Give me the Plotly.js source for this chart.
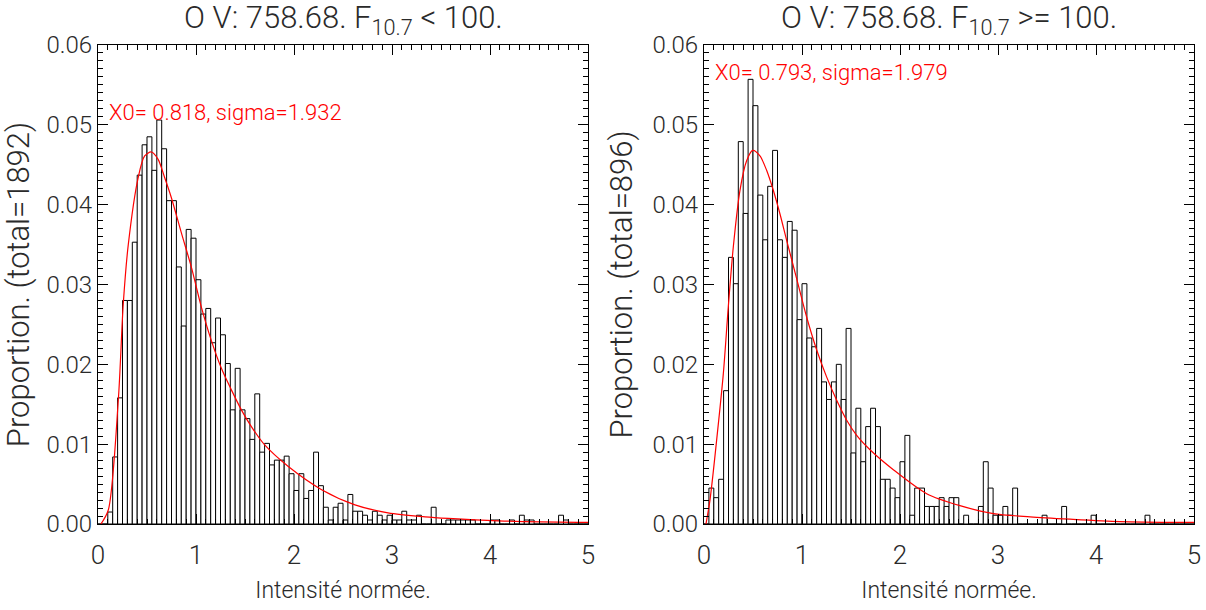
<!DOCTYPE html>
<html>
<head>
<meta charset="utf-8">
<script src="https://cdn.plot.ly/plotly-3.0.1.min.js"></script>
<style>
  html, body { margin: 0; padding: 0; background: #fff; }
  #chart { width: 1206px; height: 610px; }
</style>
</head>
<body>
<div id="chart"></div>
<script>
// Histogram proportions, bins of width 0.05 from 0 to 5
const leftProp = [
  0, 0, 0.0015, 0.0084, 0.0158, 0.0280, 0.0280, 0.0353, 0.0437, 0.0475,
  0.0485, 0.0443, 0.0506, 0.0470, 0.0405, 0.0405, 0.0322, 0.0248, 0.0369, 0.0358,
  0.0306, 0.0263, 0.0270, 0.0227, 0.0258, 0.0237, 0.0201, 0.0143, 0.0195, 0.0143,
  0.0132, 0.0106, 0.0163, 0.0090, 0.0101, 0.0074, 0.0080, 0.0080, 0.0085, 0.0063,
  0.0042, 0.0063, 0.0032, 0.0042, 0.0090, 0.0048, 0.0021, 0.0005, 0.0021, 0.0026,
  0.0005, 0.0037, 0.0016, 0.0016, 0.0011, 0.0005, 0.0016, 0.0011, 0.0005, 0.0011,
  0.0005, 0.0005, 0.0016, 0.0005, 0.0005, 0.0011, 0, 0, 0.0021, 0,
  0, 0.0005, 0.0005, 0.0005, 0.0005, 0.0005, 0.0005, 0, 0, 0,
  0.0005, 0.0005, 0, 0, 0.0005, 0, 0.0011, 0.0005, 0.0005, 0,
  0, 0, 0, 0, 0.0011, 0.0005, 0, 0, 0, 0
];
const rightProp = [
  0, 0.0045, 0.0033, 0.0056, 0.0167, 0.0334, 0.0301, 0.0479, 0.0389, 0.0557,
  0.0524, 0.0412, 0.0356, 0.0423, 0.0468, 0.0356, 0.0334, 0.0379, 0.0368, 0.0256,
  0.0301, 0.0233, 0.0222, 0.0245, 0.0178, 0.0156, 0.0178, 0.0200, 0.0156, 0.0245,
  0.0089, 0.0145, 0.0078, 0.0122, 0.0145, 0.0122, 0.0056, 0.0056, 0.0045, 0.0033,
  0.0078, 0.0111, 0.0011, 0.0045, 0.0045, 0.0022, 0.0022, 0.0022, 0.0033, 0.0022,
  0.0033, 0.0033, 0, 0.0011, 0, 0, 0.0022, 0.0078, 0.0045, 0.0011,
  0.0011, 0.0022, 0.0011, 0.0045, 0, 0, 0, 0, 0, 0.0011,
  0, 0, 0, 0.0022, 0, 0, 0, 0, 0, 0.0011,
  0, 0, 0, 0, 0, 0, 0, 0, 0, 0,
  0.0011, 0, 0, 0, 0, 0, 0, 0, 0, 0
];

// Fitted curves
const leftFitX = [0.03, 0.105, 0.207, 0.258, 0.309, 0.41, 0.476, 0.544, 0.612, 0.68, 0.748, 0.85, 0.952, 1.054, 1.156, 1.259, 1.361, 1.463, 1.565, 1.701, 1.942, 2.282, 2.622, 2.96, 3.337, 3.575, 4.085, 4.9, 5.0];
const leftFitY = [0, 0.00175, 0.0155, 0.0276, 0.035, 0.0434, 0.0461, 0.0466, 0.0457, 0.0434, 0.0409, 0.0365, 0.0322, 0.0272, 0.023, 0.0195, 0.0168, 0.0143, 0.0122, 0.0099, 0.0072, 0.0043, 0.0024, 0.0014, 0.0009, 0.0007, 0.0004, 0.0002, 0.0002];
const rightFitX = [0.02, 0.061, 0.129, 0.197, 0.248, 0.299, 0.367, 0.435, 0.497, 0.571, 0.639, 0.707, 0.776, 0.844, 0.946, 1.048, 1.150, 1.252, 1.354, 1.456, 1.558, 1.694, 1.932, 2.272, 2.612, 2.952, 3.327, 3.735, 4.245, 4.891, 5.0];
const rightFitY = [0, 0.003, 0.0105, 0.0188, 0.0272, 0.0347, 0.0418, 0.0455, 0.0468, 0.0461, 0.0443, 0.0418, 0.0388, 0.0355, 0.0307, 0.0259, 0.0218, 0.0184, 0.0155, 0.013, 0.0111, 0.0093, 0.0068, 0.0038, 0.0023, 0.0013, 0.0009, 0.0006, 0.0003, 0.0002, 0.0002];

const titles = ["O V: 758.68. F<sub>10.7</sub> < 100.", "O V: 758.68. F<sub>10.7</sub> >= 100."];
const yTitles = ["Proportion. (total=1892)", "Proportion. (total=896)"];
const xTitle = "Intensité normée.";
const fitLabels = ["X0= 0.818, sigma=1.932", "X0= 0.793, sigma=1.979"];
const xTickVals = [0, 1, 2, 3, 4, 5];
const yTickVals = [0, 0.01, 0.02, 0.03, 0.04, 0.05, 0.06];

const FONT = "Roboto, Liberation Sans, sans-serif";
const TXT = "#2a2a2a";
const W = 300;

function histTrace(y, xa, ya) {
  return {
    type: 'bar', x0: 0.025, dx: 0.05, y: y, width: 0.05,
    marker: { color: 'white', line: { color: 'black', width: 1 } },
    xaxis: xa, yaxis: ya, hoverinfo: 'x+y', showlegend: false
  };
}
function fitTrace(x, y, xa, ya) {
  return {
    type: 'scatter', mode: 'lines', x: x, y: y,
    line: { color: 'red', width: 1.2, shape: 'spline', smoothing: 0.8 },
    xaxis: xa, yaxis: ya, showlegend: false
  };
}

const data = [
  histTrace(leftProp, 'x', 'y'),
  fitTrace(leftFitX, leftFitY, 'x', 'y'),
  histTrace(rightProp, 'x2', 'y2'),
  fitTrace(rightFitX, rightFitY, 'x2', 'y2')
];

function xAxis(domain, anchor) {
  return {
    domain: domain, anchor: anchor, range: [0, 5],
    tickmode: 'array', tickvals: xTickVals, ticktext: xTickVals.map(String),
    ticks: 'inside', ticklen: 10, tickwidth: 1, tickcolor: 'black',
    minor: { ticks: 'inside', dtick: 0.1, tick0: 0, ticklen: 5, tickwidth: 1, tickcolor: 'black', showgrid: false },
    showline: true, linecolor: 'black', linewidth: 1, mirror: 'ticks',
    showgrid: false, zeroline: false,
    tickfont: { family: FONT, size: 26, color: TXT, weight: W },
    ticklabelstandoff: 8,
    title: { text: xTitle, font: { family: FONT, size: 23, color: TXT, weight: W }, standoff: 12 }
  };
}
function yAxis(domain, anchor, t) {
  return {
    domain: domain, anchor: anchor, range: [0, 0.06],
    tickmode: 'array', tickvals: yTickVals, ticktext: yTickVals.map(v => v.toFixed(2)),
    ticks: 'inside', ticklen: 10, tickwidth: 1, tickcolor: 'black',
    minor: { ticks: 'inside', dtick: 0.001, tick0: 0, ticklen: 5, tickwidth: 1, tickcolor: 'black', showgrid: false },
    showline: true, linecolor: 'black', linewidth: 1, mirror: 'ticks',
    showgrid: false, zeroline: false,
    tickfont: { family: FONT, size: 24, color: TXT, weight: W },
    ticklabelstandoff: 0,
    title: { text: t, font: { family: FONT, size: 31, color: TXT, weight: W }, standoff: 10 }
  };
}

const yDom = [86 / 610, 565 / 610];
const layout = {
  width: 1206, height: 610,
  margin: { l: 0, r: 0, t: 0, b: 0 },
  paper_bgcolor: 'white', plot_bgcolor: 'white',
  bargap: 0, barmode: 'overlay',
  showlegend: false,
  xaxis: xAxis([98 / 1206, 588 / 1206], 'y'),
  yaxis: yAxis(yDom, 'x', yTitles[0]),
  xaxis2: xAxis([704 / 1206, 1194 / 1206], 'y2'),
  yaxis2: yAxis(yDom, 'x2', yTitles[1]),
  annotations: [
    { text: titles[0], xref: 'paper', yref: 'paper', x: 343 / 1206, y: 1 - 19 / 610, xanchor: 'center', yanchor: 'middle', showarrow: false, font: { family: FONT, size: 31, color: TXT, weight: W } },
    { text: titles[1], xref: 'paper', yref: 'paper', x: 949 / 1206, y: 1 - 19 / 610, xanchor: 'center', yanchor: 'middle', showarrow: false, font: { family: FONT, size: 31, color: TXT, weight: W } },
    { text: fitLabels[0], xref: 'x', yref: 'y', x: 0.09, y: 0.0515, xanchor: 'left', yanchor: 'middle', showarrow: false, font: { family: FONT, size: 22, color: 'red', weight: W } },
    { text: fitLabels[1], xref: 'x2', yref: 'y2', x: 0.09, y: 0.0565, xanchor: 'left', yanchor: 'middle', showarrow: false, font: { family: FONT, size: 22, color: 'red', weight: W } }
  ]
};

Plotly.newPlot('chart', data, layout, { staticPlot: true, displayModeBar: false });
</script>
</body>
</html>
